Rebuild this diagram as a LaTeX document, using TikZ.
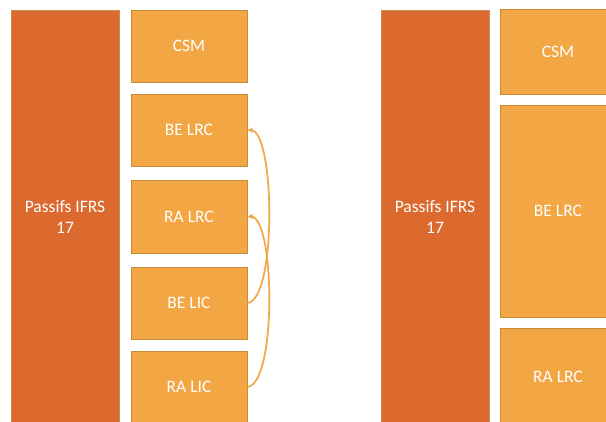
\documentclass[tikz,border=0pt]{standalone}
\usepackage{fontspec}
\setmainfont{Carlito}
\usetikzlibrary{arrows.meta,positioning}
\definecolor{passcolor}{RGB}{220,106,46}
\definecolor{passedge}{RGB}{196,142,84}
\definecolor{blocolor}{RGB}{242,166,68}
\definecolor{blocedge}{RGB}{201,138,56}
\tikzset{
  passif/.style={draw=passedge, fill=passcolor, line width=0.8pt, text=white,
    minimum width=108pt, minimum height=414pt, inner sep=0pt, align=center,
    font=\fontsize{17.5}{21}\selectfont},
  bloc/.style={draw=blocedge, fill=blocolor, line width=0.8pt, text=white,
    minimum width=116pt, inner sep=0pt, align=center,
    font=\fontsize{17.5}{21}\selectfont},
  flow/.style={-{Stealth[length=6pt,width=5.5pt]}, line width=1.7pt, blocolor},
}

\begin{document}
\begin{tikzpicture}[x=1pt, y=-1pt]
    \useasboundingbox (0,0) rectangle (606,422);
    \clip (0,0) rectangle (606,422);
    % Left: IFRS 17 liabilities split in five
    \node[passif] (passL) at (65,217) {Passifs IFRS\\17};
    \node[bloc, minimum height=72pt] (csmL) at (189,46) {CSM};
    \node[bloc, minimum height=72pt] (belrc) at (189,130) {BE LRC};
    \node[bloc, minimum height=73pt] (ralrc) at (189,216.5) {RA LRC};
    \node[bloc, minimum height=72pt] (belic) at (189,303) {BE LIC};
    \node[bloc, minimum height=72pt] (ralic) at (189,387) {RA LIC};
    % LIC parts move into LRC
    \draw[flow] (belic.east) .. controls (277,300) and (275,131) .. (belrc.east);
    \draw[flow] (ralic.east) .. controls (277,384) and (275,217) .. (ralrc.east);
    % Right: after the move
    \node[passif] (passR) at (435,217) {Passifs IFRS\\17};
    \node[bloc, minimum height=85pt] (csmR) at (558,51.5) {CSM};
    \node[bloc, minimum height=212pt] (belrcR) at (558,211) {BE LRC};
    \node[bloc, minimum height=98pt] (ralrcR) at (558,377) {RA LRC};
\end{tikzpicture}
\end{document}
